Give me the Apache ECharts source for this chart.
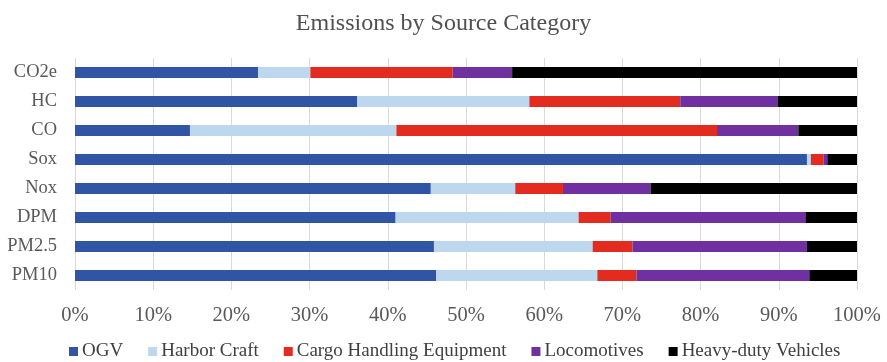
<!DOCTYPE html>
<html>
<head>
<meta charset="utf-8">
<script src="https://cdn.jsdelivr.net/npm/echarts@6/dist/echarts.min.js"></script>
<style>
  html, body { margin: 0; padding: 0; background: #fff; }
  #chart { width: 887px; height: 362px; }
</style>
</head>
<body>
<div id="chart"></div>
<script>
// Pollutant categories, top to bottom
const categories = ['CO2e', 'HC', 'CO', 'Sox', 'Nox', 'DPM', 'PM2.5', 'PM10'];

// Share of each pollutant by source (%), same order as categories
const ogv            = [23.4, 36.1, 14.7, 93.6, 45.5, 41.0, 45.9, 46.2];
const harborCraft    = [ 6.7, 22.0, 26.4,  0.5, 10.8, 23.4, 20.3, 20.6];
const cargoHandling  = [18.2, 19.3, 41.0,  1.6,  6.1,  4.1,  5.1,  5.0];
const locomotives    = [ 7.6, 12.5, 10.4,  0.5, 11.2, 24.9, 22.3, 22.1];
const heavyDuty      = [44.1, 10.1,  7.5,  3.8, 26.4,  6.6,  6.4,  6.1];

const seriesNames = ['OGV', 'Harbor Craft', 'Cargo Handling Equipment', 'Locomotives', 'Heavy-duty Vehicles'];
const seriesData = [ogv, harborCraft, cargoHandling, locomotives, heavyDuty];
const colors = ['#2F55A4', '#BDD7EE', '#E32B1F', '#7030A0', '#000000'];

const font = '"Liberation Serif", "Times New Roman", serif';

const chart = echarts.init(document.getElementById('chart'), null, { renderer: 'canvas' });

chart.setOption({
  animation: false,
  color: colors,
  title: {
    text: 'Emissions by Source Category',
    left: 'center',
    top: 7,
    textStyle: { fontFamily: font, fontSize: 24, fontWeight: 'normal', color: '#505050' }
  },
  legend: {
    data: seriesNames,
    top: 337,
    left: 64,
    icon: 'rect',
    itemWidth: 9,
    itemHeight: 9,
    itemGap: 25,
    textStyle: { fontFamily: font, fontSize: 19, color: '#404040', padding: [0, 0, 0, -1] }
  },
  grid: { left: 75, right: 30, top: 58, bottom: 72, containLabel: false },
  xAxis: {
    type: 'value',
    min: 0,
    max: 100,
    interval: 10,
    axisLine: { show: false },
    axisTick: { show: false },
    splitLine: { lineStyle: { color: '#D9D9D9', width: 1 } },
    axisLabel: {
      formatter: '{value}%',
      fontFamily: font,
      fontSize: 20.5,
      color: '#595959',
      margin: 15
    }
  },
  yAxis: {
    type: 'category',
    data: categories,
    inverse: true,
    axisLine: { show: false },
    axisTick: { show: false },
    splitLine: { show: false },
    axisLabel: { fontFamily: font, fontSize: 18.5, color: '#595959', margin: 18 }
  },
  series: seriesNames.map((name, i) => ({
    name: name,
    type: 'bar',
    stack: 'total',
    barWidth: 11,
    data: seriesData[i]
  }))
});
</script>
</body>
</html>
